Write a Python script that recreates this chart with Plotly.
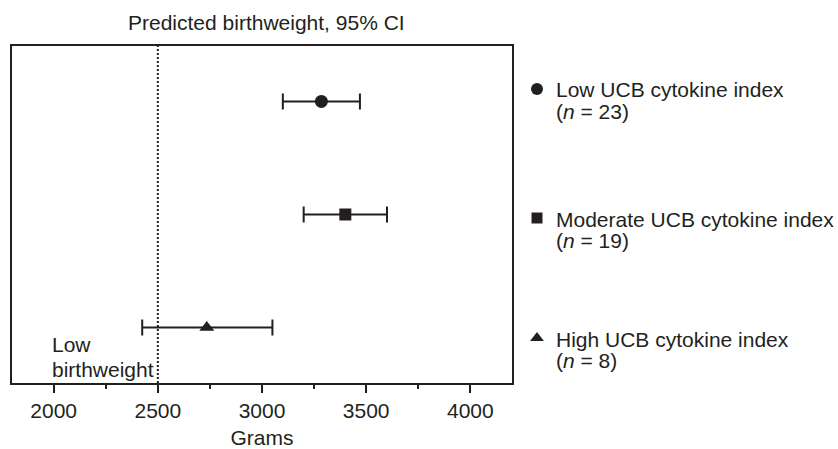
import plotly.graph_objects as go

# ---- data ----
groups = ["Low UCB cytokine index", "Moderate UCB cytokine index", "High UCB cytokine index"]
n_values = [23, 19, 8]
predicted = [3285, 3400, 2735]
ci_low = [3100, 3200, 2425]
ci_high = [3470, 3600, 3050]
symbols = ["circle", "square", "triangle-up"]
x_ticks = [2000, 2500, 3000, 3500, 4000]
low_bw_threshold = 2500

# ---- layout constants (pixels) ----
W, H = 838, 449
ML, MR, MT, MB = 12, 0, 46, 66
PLOT_RIGHT = 512
INK = "#231f20"
FONT = "Liberation Sans, Arial, Helvetica, sans-serif"
FS = 21
MARKER_SIZES = {"circle": 13, "square": 12, "triangle-up": 13}

dom_right = (PLOT_RIGHT - ML) / (W - ML - MR)


def px(x):
    return (x - ML) / (W - ML - MR)


def py(y):
    return (H - MB - y) / (H - MT - MB)


fig = go.Figure()

for i in range(len(groups)):
    fig.add_trace(go.Scatter(
        x=[predicted[i]], y=[i], mode="markers",
        marker=dict(symbol=symbols[i], size=MARKER_SIZES[symbols[i]],
                    color=INK, opacity=1, line=dict(width=0, color=INK)),
        error_x=dict(type="data", symmetric=False,
                     array=[ci_high[i] - predicted[i]],
                     arrayminus=[predicted[i] - ci_low[i]],
                     color=INK, thickness=2, width=8),
        showlegend=False, hoverinfo="skip", xaxis="x", yaxis="y",
    ))

# legend column (pixel-coordinate overlay axes)
leg_marker_x = 537
leg_text_x = 554
leg_first_line_y = [89, 218, 338]
leg_line_gap = 21.5
for i in range(len(groups)):
    fig.add_trace(go.Scatter(
        x=[leg_marker_x], y=[leg_first_line_y[i]], mode="markers",
        marker=dict(symbol=symbols[i], size=MARKER_SIZES[symbols[i]] - 1,
                    color=INK, opacity=1, line=dict(width=0, color=INK)),
        showlegend=False, hoverinfo="skip", xaxis="x2", yaxis="y2", cliponaxis=False,
    ))


def txt(x, y, s, anchor="left"):
    return dict(x=px(x), y=py(y), xref="paper", yref="paper", text=s,
                showarrow=False, xanchor=anchor, yanchor="middle",
                font=dict(family=FONT, size=FS, color=INK), yshift=-1)


annotations = []
for i, g in enumerate(groups):
    annotations.append(txt(leg_text_x, leg_first_line_y[i], g))
    annotations.append(txt(leg_text_x, leg_first_line_y[i] + leg_line_gap,
                           f"(<i>n</i> = {n_values[i]})"))

annotations.append(txt(266, 22, "Predicted birthweight, 95% CI", anchor="center"))
annotations.append(txt(50, 343, "Low"))
annotations.append(txt(50, 368, "birthweight"))

fig.add_shape(type="line", x0=low_bw_threshold, x1=low_bw_threshold, y0=0, y1=1,
              xref="x", yref="y domain", line=dict(color=INK, width=2, dash="2px,2px"))

fig.update_layout(
    width=W, height=H,
    margin=dict(l=ML, r=MR, t=MT, b=MB),
    paper_bgcolor="white", plot_bgcolor="rgba(0,0,0,0)",
    font=dict(family=FONT, size=FS, color=INK),
    annotations=annotations,
    xaxis=dict(
        domain=[0, dom_right], range=[1800, 4200],
        tickvals=x_ticks, ticktext=[str(t) for t in x_ticks],
        ticks="outside", ticklen=8, tickwidth=2, tickcolor=INK,
        minor=dict(dtick=250, tick0=0, ticks="outside", ticklen=4, tickwidth=2, tickcolor=INK, showgrid=False),
        showline=True, linewidth=2, linecolor=INK, mirror=True,
        showgrid=False, zeroline=False,
        tickfont=dict(family=FONT, size=FS, color=INK),
        title=dict(text="Grams", font=dict(family=FONT, size=FS, color=INK), standoff=10),
    ),
    yaxis=dict(
        range=[2.49, -0.49], showticklabels=False, ticks="",
        showline=True, linewidth=2, linecolor=INK, mirror=True,
        showgrid=False, zeroline=False,
    ),
    xaxis2=dict(domain=[0, 1], range=[ML, W - MR], anchor="y2",
                visible=False, fixedrange=True),
    yaxis2=dict(domain=[0, 1], range=[H - MB, MT], anchor="x2",
                visible=False, fixedrange=True),
)

fig.write_html("out.html", config={"displayModeBar": False},
               post_script="document.body.style.margin='0px';")
